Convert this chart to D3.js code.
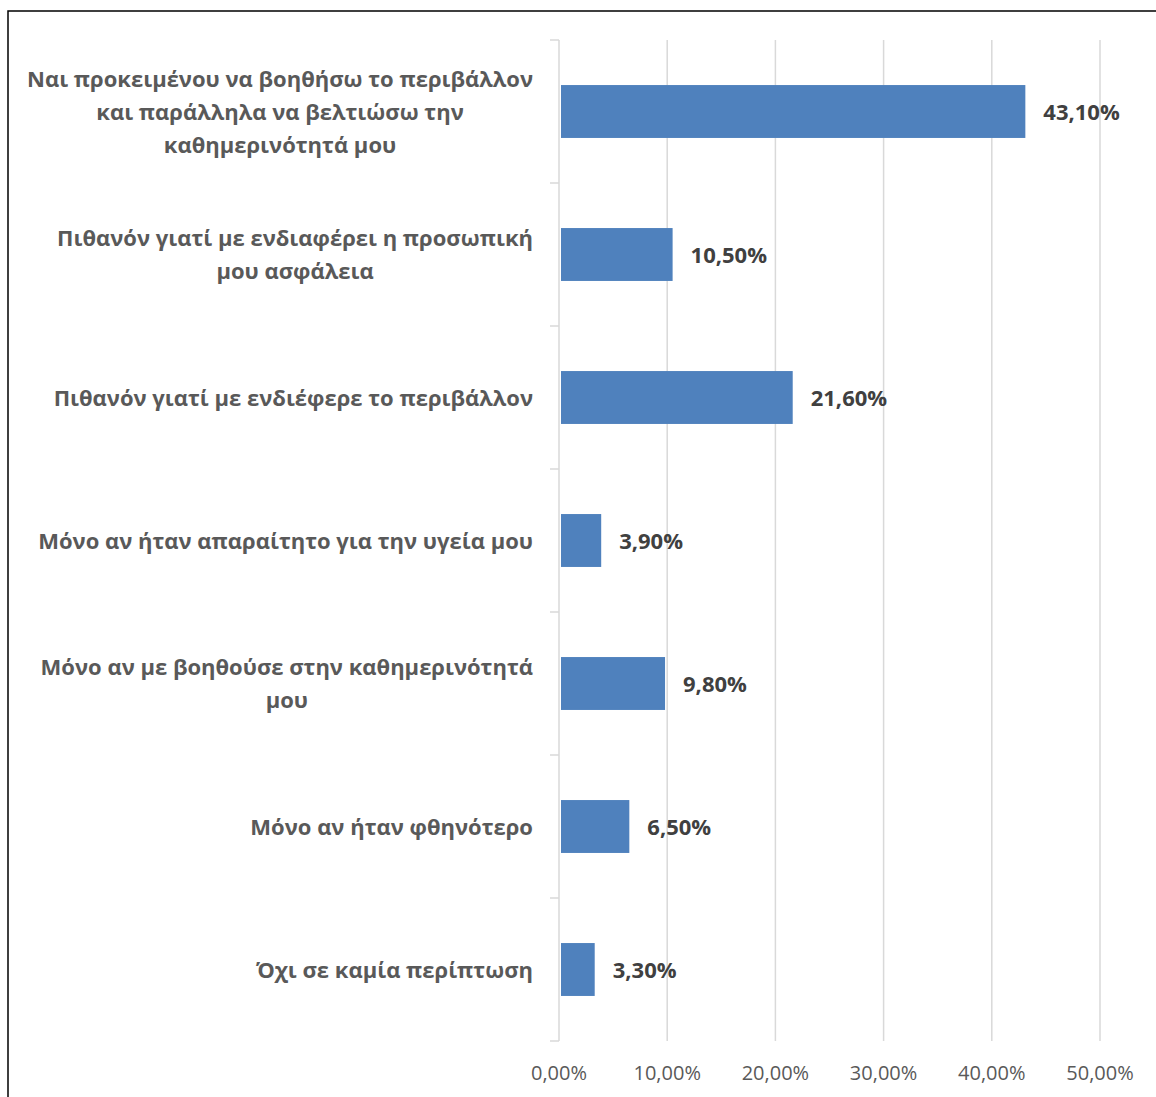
<!DOCTYPE html>
<html lang="el">
<head>
<meta charset="utf-8">
<title>Bar chart</title>
<script src="https://d3js.org/d3.v7.min.js"></script>
<style>
  body { margin: 0; background: #fff; }
  text { font-family: "Open Sans", sans-serif; }
</style>
</head>
<body>
<script>
// answers, top to bottom; each entry is the wrapped lines of the label
var categories = [
  ["Ναι προκειμένου να βοηθήσω το περιβάλλον", "και παράλληλα να βελτιώσω την", "καθημερινότητά μου"],
  ["Πιθανόν γιατί με ενδιαφέρει η προσωπική", "μου ασφάλεια"],
  ["Πιθανόν γιατί με ενδιέφερε το περιβάλλον"],
  ["Μόνο αν ήταν απαραίτητο για την υγεία μου"],
  ["Μόνο αν με βοηθούσε στην καθημερινότητά", "μου"],
  ["Μόνο αν ήταν φθηνότερο"],
  ["Όχι σε καμία περίπτωση"]
]
var values = [43.1, 10.5, 21.6, 3.9, 9.8, 6.5, 3.3]
var ticks = [0, 10, 20, 30, 40, 50]

var W = 1156, H = 1097
var plotL = 559, plotR = 1100, plotT = 40, plotB = 1041

var svg = d3.select("body").append("svg").attr("width", W).attr("height", H)

// outer frame (right and bottom edges fall outside the picture)
svg.append("rect").attr("x", 8).attr("y", 11).attr("width", 1200).attr("height", 1200)
  .attr("fill", "none").attr("stroke", "#000").attr("stroke-width", 1.5)

var x = d3.scaleLinear().domain([0, 50]).range([plotL, plotR])
var y = d3.scaleBand().domain(d3.range(categories.length)).range([plotT, plotB]).paddingInner(0.63).paddingOuter(0.315)
var band = (plotB - plotT) / categories.length

function pct(v) { return v.toFixed(2).replace(".", ",") + "%" }

// gridlines
svg.append("g").selectAll("line").data(ticks.slice(1)).enter().append("line")
  .attr("x1", d => x(d)).attr("x2", d => x(d)).attr("y1", plotT).attr("y2", plotB)
  .attr("stroke", "#d9d9d9").attr("stroke-width", 1.5)

// category axis line + tick marks
svg.append("line").attr("x1", plotL).attr("x2", plotL).attr("y1", plotT).attr("y2", plotB)
  .attr("stroke", "#d9d9d9").attr("stroke-width", 1.5)
svg.append("g").selectAll("line").data(d3.range(categories.length + 1)).enter().append("line")
  .attr("x1", plotL - 9).attr("x2", plotL).attr("y1", d => plotT + d * band).attr("y2", d => plotT + d * band)
  .attr("stroke", "#d9d9d9").attr("stroke-width", 1.5)

// x tick labels
svg.append("g").selectAll("text").data(ticks).enter().append("text")
  .attr("x", d => x(d)).attr("y", 1080).attr("text-anchor", "middle")
  .attr("font-size", 20).attr("fill", "#595959").text(pct)

// bars
svg.append("g").selectAll("rect").data(values).enter().append("rect")
  .attr("x", x(0) + 2).attr("y", (d, i) => y(i)).attr("height", y.bandwidth())
  .attr("width", d => x(d) - x(0) - 2).attr("fill", "#4f81bd")

// value labels
svg.append("g").selectAll("text").data(values).enter().append("text")
  .attr("x", d => x(d) + 18).attr("y", (d, i) => y(i) + y.bandwidth() / 2 + 8)
  .attr("font-size", 22).attr("font-weight", "bold").attr("fill", "#404040").text(pct)

// category labels, centred block, right aligned against the axis
var lineH = 33
categories.forEach(function (lines, i) {
  var g = svg.append("g")
  var cy = y(i) + y.bandwidth() / 2
  var t = g.selectAll("text").data(lines).enter().append("text")
    .attr("font-size", 22).attr("font-weight", "bold").attr("fill", "#595959")
    .attr("text-anchor", "middle")
    .attr("y", (d, j) => cy + 8 + (j - (lines.length - 1) / 2) * lineH)
    .text(d => d)
  var maxW = d3.max(t.nodes(), n => n.getComputedTextLength())
  t.attr("x", 533 - maxW / 2)
})
</script>
</body>
</html>
